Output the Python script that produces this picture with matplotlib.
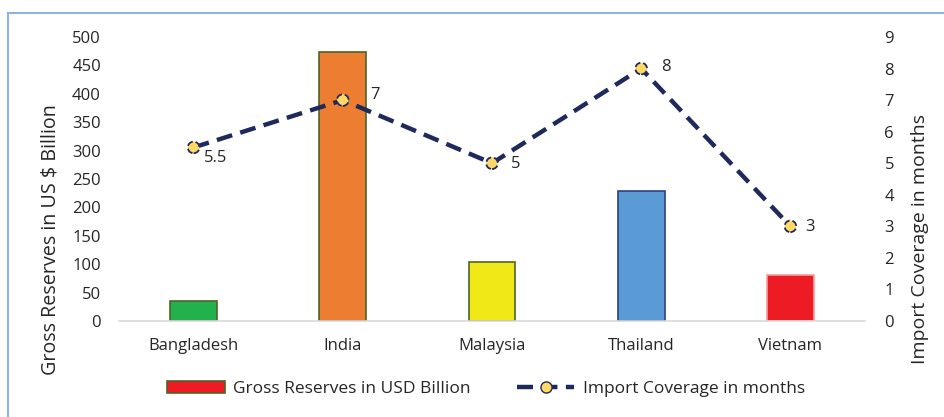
import matplotlib
matplotlib.use("Agg")
import matplotlib.pyplot as plt
from matplotlib.lines import Line2D
from matplotlib.patches import Patch
import numpy as np

plt.rcParams['font.family'] = ['Open Sans', 'DejaVu Sans']

countries = ["Bangladesh", "India", "Malaysia", "Thailand", "Vietnam"]
reserves = [35, 474, 104, 229, 81]
coverage = [5.5, 7, 5, 8, 3]
coverage_labels = ["5.5", "7", "5", "8", "3"]

bar_colors = ["#22B14C", "#ED7D31", "#F0E817", "#5B9BD5", "#ED1C24"]
bar_edges = ["#4F6228", "#4F6228", "#4F6228", "#2F3F7F", "#F4A0A0"]
line_color = "#1F2A5C"
marker_color = "#FFD966"
text_color = "#262626"
dash = (0, (3.6, 1.9))

fig = plt.figure(figsize=(9.45, 4.17), dpi=100)
ax = fig.add_axes([119/945, 1 - 321/417, (865-119)/945, (321-37)/417])

x = np.arange(len(countries))
ax.bar(x, reserves, width=0.315, color=bar_colors, edgecolor=bar_edges, linewidth=1.2, zorder=2)
ax.set_xlim(-0.5, len(countries) - 0.5)
ax.set_ylim(0, 500)
ax.set_yticks(np.arange(0, 501, 50))
ax.set_xticks(x)
ax.set_xticklabels(countries)
for s in ["top", "right", "left"]:
    ax.spines[s].set_visible(False)
ax.spines["bottom"].set_color("#D9D9D9")
ax.spines["bottom"].set_linewidth(1.2)
ax.tick_params(axis="both", length=0, labelsize=12, colors=text_color, pad=12)
ax.tick_params(axis="y", pad=13)
ax.set_ylabel("Gross Reserves in US $ Billion", fontsize=14.2, color=text_color, labelpad=8)
ax.yaxis.label.set_y(0.285)

ax2 = ax.twinx()
ax2.set_ylim(0, 9)
ax2.set_yticks(np.arange(0, 10, 1))
for s in ["top", "right", "left", "bottom"]:
    ax2.spines[s].set_visible(False)
ax2.tick_params(axis="y", length=0, labelsize=12, colors=text_color, pad=14)
ax2.set_ylabel("Import Coverage in months", fontsize=14, color=text_color, labelpad=12)
ax2.yaxis.label.set_y(0.29)

ax2.plot(x, coverage, color=line_color, linewidth=3.2, linestyle=dash, zorder=3)
ax2.scatter(x, coverage, s=70, facecolor=marker_color, edgecolor=line_color,
            linewidths=1.3, linestyles="--", zorder=4)

# label offsets in pixels (dx, dy)
offsets_px = [(10, -11), (27, 5), (19, -1), (20, 2), (15, -1)]
for xi, yi, lab, (dx, dy) in zip(x, coverage, coverage_labels, offsets_px):
    ax2.annotate(lab, (xi, yi), xytext=(dx * 0.72, dy * 0.72), textcoords="offset points",
                 ha="left", va="center", fontsize=12, color=text_color)

handles = [
    Patch(facecolor="#ED1C24", edgecolor="#4F6228", linewidth=1.2, label="Gross Reserves in USD Billion"),
    Line2D([0], [0], color=line_color, linewidth=3.2, linestyle=dash, marker="o",
           markersize=8, markerfacecolor=marker_color, markeredgecolor=line_color,
           label="Import Coverage in months"),
]
fig.legend(handles=handles, loc="center", bbox_to_anchor=(0.5145, 1 - 389/417), ncol=2,
           frameon=False, fontsize=12.5, handlelength=3.3, columnspacing=2.65,
           labelcolor=text_color, handletextpad=0.5)

# outer chart frame
frame_color = "#8DB4E2"
fig.add_artist(Line2D([8/945, 8/945], [0, 1 - 13/417], color=frame_color, linewidth=1.5,
                      transform=fig.transFigure))
fig.add_artist(Line2D([8/945, 1], [1 - 13/417, 1 - 13/417], color=frame_color, linewidth=1.5,
                      transform=fig.transFigure))

fig.savefig("out.png", dpi=100)
